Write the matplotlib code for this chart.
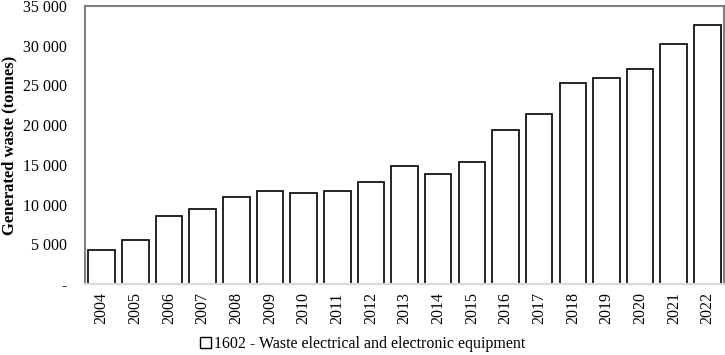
import matplotlib
matplotlib.use("Agg")
import matplotlib.pyplot as plt
from matplotlib.ticker import FuncFormatter
from matplotlib.patches import Patch

years = [str(y) for y in range(2004, 2023)]
waste = [4300, 5550, 8500, 9400, 10950, 11750, 11400, 11750, 12900, 14800,
         13800, 15300, 19350, 21450, 25250, 25950, 27100, 30200, 32600]
series_label = "1602 - Waste electrical and electronic equipment"

plt.rcParams["font.family"] = ["Liberation Serif", "DejaVu Serif"]

fig = plt.figure(figsize=(7.25, 3.55), dpi=100, facecolor="w")
ax = fig.add_axes([0.117, 0.2, 0.882, 0.783])

ax.bar(years, waste, width=0.79, color="white", edgecolor="black", linewidth=1.2)

ax.set_ylim(0, 35000)
ax.set_xlim(-0.5, len(years) - 0.5)
ax.set_yticks(range(0, 35001, 5000))

def fmt(v, pos):
    if v == 0:
        return "-"
    return f"{int(v):,}".replace(",", " ")

ax.yaxis.set_major_formatter(FuncFormatter(fmt))
ax.tick_params(axis="y", length=0, labelsize=11.5, pad=13)
ax.tick_params(axis="x", length=0, labelsize=11.5, rotation=90, pad=6)

ax.set_ylabel("Generated waste (tonnes)", fontsize=12, fontweight="bold")
ax.yaxis.set_label_coords(-0.106, 0.5)

for s in ["top", "right", "left"]:
    ax.spines[s].set_color("#808080")
    ax.spines[s].set_linewidth(1.5)
ax.spines["bottom"].set_color("#d9d9d9")
ax.spines["bottom"].set_linewidth(1.5)

handle = Patch(facecolor="white", edgecolor="black", linewidth=1.0)
fig.legend([handle], [series_label], loc="lower center", bbox_to_anchor=(0.5, -0.032),
           frameon=False, fontsize=11.5, handlelength=0.7, handleheight=0.7,
           handletextpad=0.2)

fig.savefig("out.png", dpi=100, facecolor="w")
